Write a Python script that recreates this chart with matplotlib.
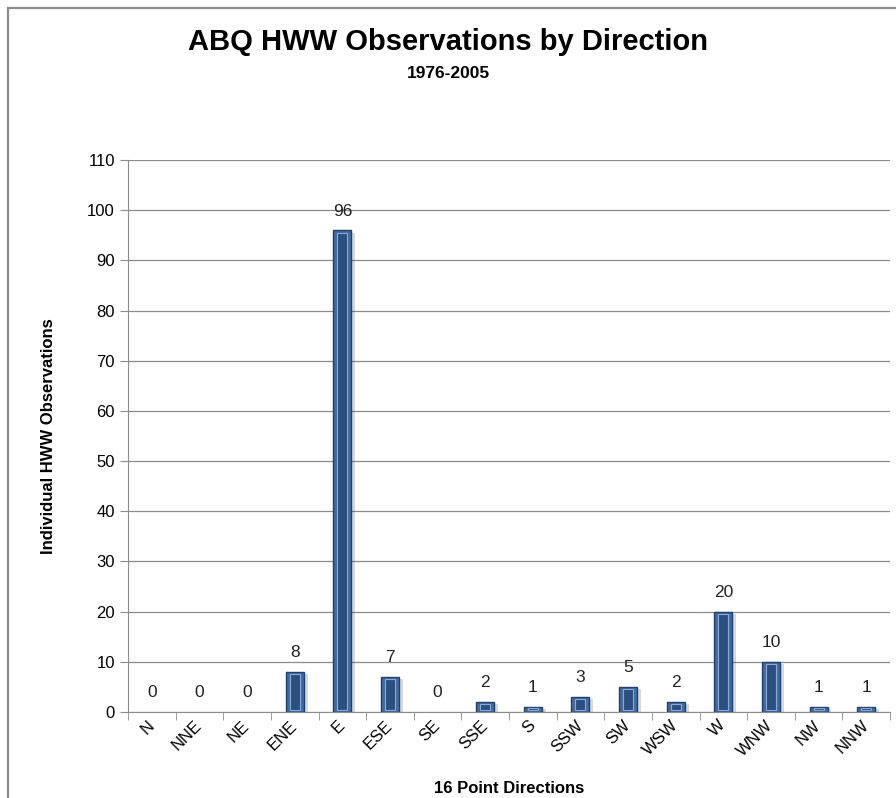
import numpy as np
import matplotlib.pyplot as plt
import matplotlib.transforms as mtransforms
from matplotlib.patches import Rectangle

plt.rcParams['font.family'] = ['Liberation Sans', 'DejaVu Sans']

directions = ['N', 'NNE', 'NE', 'ENE', 'E', 'ESE', 'SE', 'SSE', 'S', 'SSW',
              'SW', 'WSW', 'W', 'WNW', 'NW', 'NNW']
counts = [0, 0, 0, 8, 96, 7, 0, 2, 1, 3, 5, 2, 20, 10, 1, 1]
y_ticks = list(range(0, 111, 10))

fig = plt.figure(figsize=(8.96, 7.98), dpi=100)
fig.patch.set_facecolor('white')

ax = fig.add_axes([128 / 896, 1 - 712 / 798, (890 - 128) / 896, (712 - 160) / 798])

# chart border, only left and top edges fall inside the picture
border = Rectangle((7.5, -20), 2000, 798 - 7.5 + 20, transform=None, fill=False,
                   edgecolor='#8c8c8c', linewidth=1.6, clip_on=False)
fig.patches.append(border)
border.set_figure(fig)

x = np.arange(len(directions))
nz = [i for i, c in enumerate(counts) if c > 0]
xs = x[nz]
cs = np.array(counts)[nz]
w = 0.38
# soft shadow
ax.bar(xs + 0.08, cs, width=w, bottom=-0.5, color='#000000', alpha=0.15, zorder=2)
ax.bar(xs, cs, width=w, color='#3f6ca3', edgecolor='#22406a',
       linewidth=1.0, zorder=3)
# inner bevel
ax.bar(xs, np.maximum(cs - 0.9, 0.3), width=w * 0.55, bottom=0.4,
       color='#2b5080', edgecolor='#88aad4', linewidth=0.8, zorder=4)

for xi, c in zip(x, counts):
    ax.text(xi, c + 2.3, str(c), ha='center', va='bottom', fontsize=12.5,
            color='#222222')

ax.set_xlim(-0.5, len(directions) - 0.5)
ax.set_ylim(0, 110)
ax.set_yticks(y_ticks)
ax.set_yticklabels([str(v) for v in y_ticks], fontsize=12)
ax.set_xticks(x)
ax.set_xticklabels(directions, rotation=45, ha='right', va='center',
                   rotation_mode='anchor', fontsize=12)
offset = mtransforms.ScaledTranslation(0.10, 0.0, fig.dpi_scale_trans)
for lbl in ax.get_xticklabels():
    lbl.set_transform(lbl.get_transform() + offset)
ax.tick_params(axis='x', length=0, pad=8)
ax.set_xticks(np.arange(-0.5, len(directions)), minor=True)
ax.tick_params(axis='x', which='minor', length=6, color='#8c8c8c')
ax.tick_params(axis='y', length=6, color='#8c8c8c')
ax.grid(axis='y', color='#8c8c8c', linewidth=0.9, zorder=0)
ax.set_axisbelow(True)
for s in ['top', 'right']:
    ax.spines[s].set_visible(False)
ax.spines['left'].set_color('#8c8c8c')
ax.spines['bottom'].set_color('#8c8c8c')

ax.set_ylabel('Individual HWW Observations', fontsize=12, fontweight='bold', labelpad=22)
ax.set_xlabel('16 Point Directions', fontsize=12, fontweight='bold', labelpad=16)

fig.text(0.5, 1 - 42 / 798, 'ABQ HWW Observations by Direction', ha='center',
         va='center', fontsize=21, fontweight='bold')
fig.text(0.5, 1 - 73 / 798, '1976-2005', ha='center', va='center',
         fontsize=12.5, fontweight='bold')

plt.savefig('out.png', dpi=100)
